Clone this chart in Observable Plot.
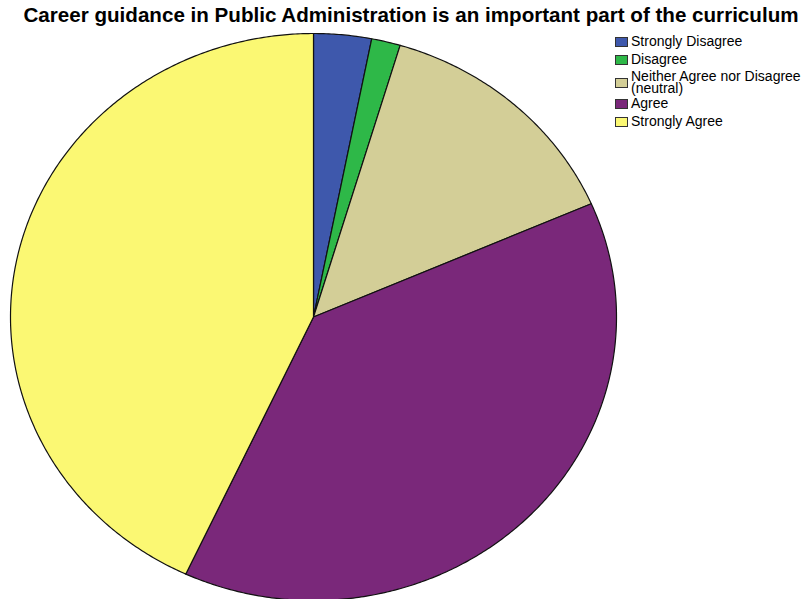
<!DOCTYPE html>
<html>
<head>
<meta charset="utf-8">
<script src="https://cdn.jsdelivr.net/npm/d3@7"></script>
<script src="https://cdn.jsdelivr.net/npm/@observablehq/plot@0.6"></script>
<style>
  body { margin: 0; background: #fff; }
  #wrap { position: relative; width: 803px; height: 599px; overflow: hidden; font-family: "Liberation Sans", Arial, sans-serif; }
  #title { position: absolute; left: 0; top: 3px; width: 822px; text-align: center; font-weight: bold; font-size: 20.6px; color: #000; white-space: nowrap; }
  #chart { position: absolute; left: 0; top: 0; }
  #legend { position: absolute; left: 615px; top: 36px; font-size: 14px; color: #000; }
  .item { display: flex; align-items: center; white-space: nowrap; line-height: 11.5px; }
  .sw { width: 13px; height: 10px; border: 1px solid #333; box-sizing: border-box; margin-right: 3px; flex: none; }
</style>
</head>
<body>
<div id="wrap">
  <div id="chart"></div>
  <div id="title">Career guidance in Public Administration is an important part of the curriculum</div>
  <div id="legend"></div>
</div>
<script>
const categories = ["Strongly Disagree", "Disagree", "Neither Agree nor Disagree\n(neutral)", "Agree", "Strongly Agree"];
const counts = [2, 1, 9, 25, 28];
const colors = ["#3e58ac", "#2eb848", "#d3ce97", "#7a287a", "#fbf873"];

const total = d3.sum(counts);
const points = [];
let acc = 0;
categories.forEach((cat, i) => {
  const a0 = acc / total * 2 * Math.PI;
  acc += counts[i];
  const a1 = acc / total * 2 * Math.PI;
  const n = Math.max(2, Math.ceil((a1 - a0) / (Math.PI / 360)));
  points.push({cat, x: 0, y: 0});
  for (let k = 0; k <= n; k++) {
    const a = a0 + (a1 - a0) * k / n;
    points.push({cat, x: Math.sin(a), y: -Math.cos(a)});
  }
});

const chart = Plot.plot({
  width: 803,
  height: 599,
  margin: 0,
  x: {domain: [-1, 1], range: [10, 616], axis: null},
  y: {domain: [-1, 1], range: [33, 600], axis: null},
  color: {domain: categories, range: colors},
  marks: [
    Plot.line(points, {x: "x", y: "y", z: "cat", fill: "cat", stroke: "#111", strokeWidth: 1.2, curve: "linear-closed"})
  ]
});
document.getElementById("chart").appendChild(chart);

const legend = document.getElementById("legend");
const tops = [0, 18, 35, 62, 80];
categories.forEach((cat, i) => {
  const it = document.createElement("div");
  it.className = "item";
  it.style.position = "absolute";
  it.style.top = tops[i] + "px";
  const sw = document.createElement("div");
  sw.className = "sw";
  sw.style.background = colors[i];
  const tx = document.createElement("div");
  tx.style.whiteSpace = "pre";
  tx.textContent = cat;
  it.appendChild(sw);
  it.appendChild(tx);
  legend.appendChild(it);
});
</script>
</body>
</html>
